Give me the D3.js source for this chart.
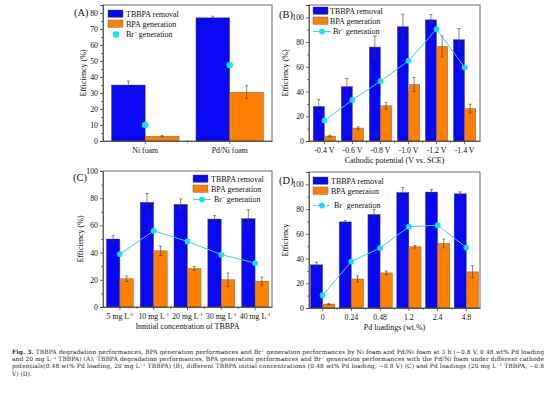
<!DOCTYPE html>
<html>
<head>
<meta charset="utf-8">
<script src="https://cdn.jsdelivr.net/npm/d3@7"></script>
<style>
  body { margin: 0; background: #fff; }
  svg { display: block; font-family: "Liberation Serif", "Times New Roman", serif; }
</style>
</head>
<body>
<svg id="chart" width="554" height="393"></svg>
<script>
// Panel A
const catsA = ["Ni foam", "Pd/Ni foam"];
const tbbpaA = [35, 77];
const tbbpaErrA = [2.5, 1];
const bpaA = [3, 30.5];
const bpaErrA = [0.4, 4];
const brA = [10, 47.5];
const brErrA = [0, 6.5];
const yTicksA = [0, 10, 20, 30, 40, 50, 60, 70, 80];

// Panel B
const catsB = ["-0.4 V", "-0.6 V", "-0.8 V", "-1.0 V", "-1.2 V", "-1.4 V"];
const tbbpaB = [28, 44, 76, 92.5, 98, 82];
const tbbpaErrB = [5.5, 6.5, 9, 10, 4.3, 9];
const bpaB = [4, 10.5, 28.5, 45.7, 76.5, 26.2];
const bpaErrB = [0.7, 1, 2.8, 5.7, 8.5, 3.5];
const brB = [16.5, 33.2, 48.4, 64.9, 90.5, 59.5];
const brErrB = [0, 4, 8, 6, 0, 0];
const yTicksB = [0, 20, 40, 60, 80, 100];

// Panel C
const catsC = ["5 mg L", "10 mg L", "20 mg L", "30 mg L", "40 mg L"];
const tbbpaC = [50, 77, 75.5, 64.7, 65];
const tbbpaErrC = [2.5, 6.5, 4, 2.5, 6.5];
const bpaC = [20.8, 41.3, 28.3, 20, 19];
const bpaErrC = [2, 3.5, 1.5, 5, 3];
const brC = [38.9, 56, 48.2, 38.5, 32.3];
const brErrC = [0, 0, 0, 0, 0];
const yTicksC = [0, 20, 40, 60, 80, 100];

// Panel D
const catsD = ["0", "0.24", "0.48", "1.2", "2.4", "4.8"];
const tbbpaD = [35, 69.7, 75.7, 93.5, 93.8, 92.4];
const tbbpaErrD = [2, 1, 4, 4, 2, 1.5];
const bpaD = [3.2, 23.5, 28.4, 49.5, 52.2, 29.2];
const bpaErrD = [0.4, 2.5, 1.5, 1, 3.5, 5];
const brD = [10.3, 37.6, 48.6, 65.7, 67, 48.9];
const brErrD = [0, 0, 0, 0, 0, 0];
const yTicksD = [0, 20, 40, 60, 80, 100];

const captionLines = [
  ["Fig. 3.", " TBBPA degradation performances, BPA generation performances and Br\u207B generation performances by Ni foam and Pd/Ni foam at 3 h (\u22120.8 V, 0.48 wt% Pd loading"],
  ["", "and 20 mg L\u207B\u00B9 TBBPA) (A); TBBPA degradation performances, BPA generation performances and Br\u207B generation performances with the Pd/Ni foam under different cathode"],
  ["", "potentials(0.48 wt% Pd loading, 20 mg L\u207B\u00B9 TBBPA) (B), different TBBPA initial concentrations (0.48 wt% Pd loading, \u22120.8 V) (C) and Pd loadings (20 mg L\u207B\u00B9 TBBPA, \u22120.8"],
  ["", "V) (D)."]
];

const BLUE = "#0808f2";
const ORANGE = "#ff8000";
const CYAN = "#12e2fb";
const LINE = "#3dd0f5";

const svg = d3.select("#chart");

const panels = [
  { letter: "(A)", cats: catsA, tb: tbbpaA, tbE: tbbpaErrA, bp: bpaA, bpE: bpaErrA, br: brA, brE: brErrA,
    yTicks: yTicksA, yMax: 85, minor: 5, x0: 103, x1: 272, y0: 5, y1: 141, pi: 0.2, po: 0.1,
    yLabel: "Efficiency (%)", xLabel: "", line: false, sup: "", legX: 108, legY: 10, legTextX: 126,
    bpaName: "BPA generation", letterX: 74, letterY: 16, yLabelX: 86, dotR: 3.3, brRowGap: 0 },
  { letter: "(B)", cats: catsB, tb: tbbpaB, tbE: tbbpaErrB, bp: bpaB, bpE: bpaErrB, br: brB, brE: brErrB,
    yTicks: yTicksB, yMax: 110, minor: 10, x0: 309, x1: 480, y0: 5, y1: 141, pi: 0.2, po: 0.15,
    yLabel: "Efficiency (%)", xLabel: "Cathodic potential (V vs. SCE)", line: true, sup: "", legX: 313, legY: 7, legTextX: 330,
    bpaName: "BPA generation", letterX: 279, letterY: 18, yLabelX: 288, dotR: 2.9, brRowGap: 0 },
  { letter: "(C)", cats: catsC, tb: tbbpaC, tbE: tbbpaErrC, bp: bpaC, bpE: bpaErrC, br: brC, brE: brErrC,
    yTicks: yTicksC, yMax: 100, minor: 10, x0: 103, x1: 272, y0: 171, y1: 307, pi: 0.2, po: 0.1,
    yLabel: "Efficiency (%)", xLabel: "Innitial concentration of TBBPA", line: true, sup: "-1", legX: 193, legY: 175, legTextX: 211,
    bpaName: "BPA generation", letterX: 73, letterY: 181, yLabelX: 83, dotR: 2.9, brRowGap: 0 },
  { letter: "(D)", cats: catsD, tb: tbbpaD, tbE: tbbpaErrD, bp: bpaD, bpE: bpaErrD, br: brD, brE: brErrD,
    yTicks: yTicksD, yMax: 110, minor: 10, x0: 309, x1: 480, y0: 172, y1: 308, pi: 0.15, po: 0.05,
    yLabel: "Efficiency", xLabel: "Pd loadings (wt.%)", line: true, sup: "", legX: 313, legY: 177, legTextX: 331,
    bpaName: "BPA generaion", letterX: 279, letterY: 184, yLabelX: 288, dotR: 2.9, brRowGap: 4, dashed: true }
];

panels.forEach(drawPanel);

function drawPanel(p) {
  const g = svg.append("g");
  const x = d3.scaleBand().domain(p.cats).range([p.x0, p.x1]).paddingInner(p.pi).paddingOuter(p.po);
  const y = d3.scaleLinear().domain([0, p.yMax]).range([p.y1, p.y0]);
  const half = x.bandwidth() / 2;
  const cx = c => x(c) + half;

  //Bars
  const bars = [
    { vals: p.tb, errs: p.tbE, fill: BLUE, off: 0 },
    { vals: p.bp, errs: p.bpE, fill: ORANGE, off: half }
  ];
  bars.forEach(s => {
    g.selectAll(null).data(p.cats).enter().append("rect")
      .attr("x", c => x(c) + s.off)
      .attr("width", half)
      .attr("y", (c, i) => y(s.vals[i]))
      .attr("height", (c, i) => y(0) - y(s.vals[i]))
      .attr("fill", s.fill)
      .attr("stroke", "#6a5a50")
      .attr("stroke-width", 0.4);
    //Error bars
    const eg = g.selectAll(null).data(p.cats).enter().append("g")
      .attr("stroke", "#3a3a3a").attr("stroke-width", 0.6);
    eg.append("line")
      .attr("x1", c => x(c) + s.off + half / 2).attr("x2", c => x(c) + s.off + half / 2)
      .attr("y1", (c, i) => y(s.vals[i] - s.errs[i])).attr("y2", (c, i) => y(s.vals[i] + s.errs[i]));
    [-1, 1].forEach(sg => {
      eg.append("line")
        .attr("x1", c => x(c) + s.off + half / 2 - 1.5).attr("x2", c => x(c) + s.off + half / 2 + 1.5)
        .attr("y1", (c, i) => y(s.vals[i] + sg * s.errs[i])).attr("y2", (c, i) => y(s.vals[i] + sg * s.errs[i]));
    });
  });

  //Br- series
  g.selectAll(null).data(p.cats).enter().append("line")
    .filter((c, i) => p.brE[i] > 0)
    .attr("x1", cx).attr("x2", cx)
    .attr("y1", (c, i) => y(p.br[i] - p.brE[i])).attr("y2", (c, i) => y(p.br[i] + p.brE[i]))
    .attr("stroke", LINE).attr("stroke-width", 0.6);
  if (p.line) {
    const ln = d3.line().x(d => cx(d[0])).y(d => y(d[1]));
    g.append("path")
      .attr("d", ln(p.cats.map((c, i) => [c, p.br[i]])))
      .attr("fill", "none").attr("stroke", LINE).attr("stroke-width", 1);
  }
  g.selectAll(null).data(p.cats).enter().append("circle")
    .attr("cx", cx).attr("cy", (c, i) => y(p.br[i]))
    .attr("r", p.dotR).attr("fill", CYAN);

  //Axes
  const yAxis = g.append("g").attr("transform", `translate(${p.x0},0)`)
    .call(d3.axisLeft(y).tickValues(p.yTicks).tickSize(3).tickPadding(2));
  const minorT = d3.range(0, p.yMax + 0.01, p.minor).filter(v => !p.yTicks.includes(v));
  g.append("g").attr("transform", `translate(${p.x0},0)`)
    .call(d3.axisLeft(y).tickValues(minorT).tickSize(1.8).tickFormat(""))
    .select(".domain").remove();
  const xAxis = g.append("g").attr("transform", `translate(0,${p.y1})`)
    .call(d3.axisBottom(x).tickSize(3).tickPadding(3).tickSizeOuter(0));
  const minorX = p.cats.slice(1).map(c => x(c) - x.step() * x.paddingInner() / 2 );
  g.selectAll(null).data(minorX).enter().append("line")
    .attr("x1", d => d).attr("x2", d => d).attr("y1", p.y1).attr("y2", p.y1 + 1.8)
    .attr("stroke", "#333").attr("stroke-width", 0.7);
  [yAxis, xAxis].forEach(a => {
    a.selectAll("path, line").attr("stroke", "#333").attr("stroke-width", 0.7);
    a.selectAll("text").attr("fill", "#111").style("font-family", "Liberation Serif").style("font-size", "7.8px");
  });
  g.selectAll(".tick line").attr("stroke", "#333").attr("stroke-width", 0.7);
  if (p.sup) {
    xAxis.selectAll(".tick text").append("tspan")
      .attr("dy", "-3px").style("font-size", "5px").text(p.sup);
  }

  //Frame
  g.append("rect").attr("x", p.x0).attr("y", p.y0)
    .attr("width", p.x1 - p.x0).attr("height", p.y1 - p.y0)
    .attr("fill", "none").attr("stroke", "#444").attr("stroke-width", 0.8);

  //Labels
  g.append("text").attr("x", p.letterX).attr("y", p.letterY)
    .style("font-size", "10.5px").attr("fill", "#111").text(p.letter);
  g.append("text")
    .attr("transform", `translate(${p.yLabelX},${(p.y0 + p.y1) / 2}) rotate(-90)`)
    .attr("text-anchor", "middle").style("font-size", "8px").attr("fill", "#111").text(p.yLabel);
  if (p.xLabel) {
    g.append("text").attr("x", (p.x0 + p.x1) / 2).attr("y", p.y1 + 22)
      .attr("text-anchor", "middle").style("font-size", "8px").attr("fill", "#111").text(p.xLabel);
  }

  //Legend
  const lg = g.append("g").style("font-size", "8px");
  const rows = [
    { name: "TBBPA removal", fill: BLUE },
    { name: p.bpaName, fill: ORANGE }
  ];
  rows.forEach((r, i) => {
    lg.append("rect").attr("x", p.legX).attr("y", p.legY + i * 10)
      .attr("width", 15).attr("height", 7.3).attr("fill", r.fill)
      .attr("stroke", "#555").attr("stroke-width", 0.4);
    lg.append("text").attr("x", p.legTextX).attr("y", p.legY + i * 10 + 6.5)
      .attr("fill", "#111").text(r.name);
  });
  const by = p.legY + 24.5 + p.brRowGap;
  if (p.line) {
    lg.append("line").attr("x1", p.legX).attr("x2", p.legX + 18).attr("y1", by).attr("y2", by)
      .attr("stroke", LINE).attr("stroke-width", 1)
      .attr("stroke-dasharray", p.dashed ? "3,1.5" : null);
  }
  lg.append("circle").attr("cx", p.legX + (p.line ? 9 : 8)).attr("cy", by).attr("r", p.dotR).attr("fill", CYAN);
  const bt = lg.append("text").attr("x", p.legTextX + (p.line ? 3 : 0)).attr("y", by + 2.6).attr("fill", "#111");
  bt.append("tspan").text("Br");
  bt.append("tspan").attr("dy", "-3px").style("font-size", "5px").text("\u2212");
  bt.append("tspan").attr("dy", "3px").text(" generation");
}

//Caption
const cap = svg.append("g").style("font-family", "DejaVu Serif").style("font-size", "5.9px").attr("fill", "#222");
captionLines.forEach((l, i) => {
  const t = cap.append("text").attr("x", 12).attr("y", 353.5 + i * 7.4);
  if (i < captionLines.length - 1) t.attr("textLength", 532).attr("lengthAdjust", "spacing");
  if (l[0]) t.append("tspan").style("font-weight", "bold").text(l[0]);
  t.append("tspan").text(l[1]);
});
</script>
</body>
</html>
